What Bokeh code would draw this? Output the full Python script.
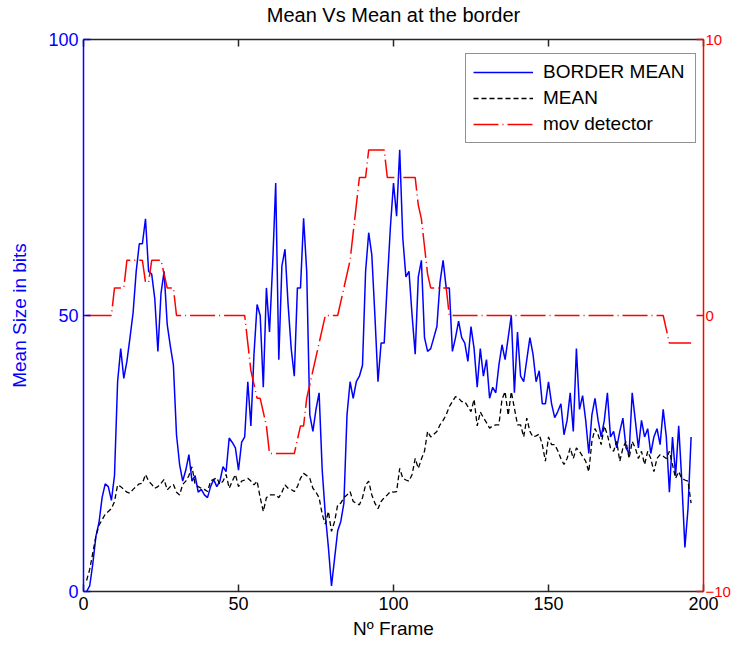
from bokeh.plotting import figure
from bokeh.models import Range1d, LinearAxis, FixedTicker, Legend, LegendItem
from bokeh.embed import file_html
from bokeh.resources import INLINE

# ---- data -------------------------------------------------------------
frames = list(range(1, 197))

border_mean = [
    0, 1, 5, 10, 12.5, 17, 19.5, 19, 16.5, 21,
    38, 44, 38.6, 41.7, 46, 50.5, 58, 63, 63, 67.5,
    58, 57.5, 53, 43.5, 54, 58, 48.4, 44.5, 41, 28.4,
    23, 20, 22, 24.8, 20, 21, 18, 18.5, 17.5, 17,
    19, 20.3, 19, 20, 22.6, 21.7, 27.8, 27, 26, 22,
    27, 28, 38, 30, 43, 52, 50, 37, 55, 47,
    59, 74, 42, 59, 62, 52, 44, 39, 55, 55,
    67.6, 58, 32, 29, 33, 36, 22, 14, 8, 1,
    6, 11, 12.7, 16, 32, 38, 35, 38, 39, 41,
    58, 65, 61, 50, 38, 45, 45, 56, 66, 74,
    68, 80, 64, 57, 58, 50, 43, 57, 60, 46,
    43.5, 44, 46, 48, 56, 60, 55, 55, 43.5, 46,
    49, 46, 45, 41.7, 48, 44, 37, 44, 39, 42,
    35, 37, 36, 41, 44.7, 42, 46, 50, 36, 47,
    39, 38, 42, 46, 43, 38, 40, 34, 34, 38,
    34, 31.5, 32.6, 34, 28.4, 31, 36, 29, 44, 33,
    35.5, 31, 25, 32, 35, 31, 28, 31, 36, 28,
    29, 26, 29, 31.4, 26, 25, 36, 31, 26, 31,
    28, 29.5, 25, 28, 29.5, 26.6, 33, 28, 18, 28,
    21, 30, 20, 8, 15, 28,
]

mean = [
    2, 4, 7, 10, 12, 13, 14, 14.5, 15, 16.3,
    19.3, 19, 18.5, 18, 17.8, 18.5, 19, 19.5, 19.6, 21.2,
    20, 19.4, 18.7, 19, 19.6, 20.3, 18.4, 19, 19.4, 18,
    17.5, 19.4, 20, 21, 22.6, 19.4, 19, 18.7, 18.5, 18.1,
    20, 20.3, 20.6, 19.4, 20, 21.2, 18.7, 20, 21.2, 19,
    20, 20.2, 20.5, 20, 19.3, 20, 17, 14.5, 17, 17.5,
    17.5, 17.5, 17, 18, 19.3, 18.7, 18.5, 18.1, 19, 20.5,
    21.4, 21, 20.5, 18.7, 18, 17, 14, 12.2, 14.5, 10.9,
    12.7, 15.7, 16, 17, 17.5, 18.1, 16.3, 16, 15.7, 17,
    19.3, 20, 17.5, 16, 15, 16.3, 17, 17.5, 18.1, 18,
    18.1, 22.3, 20.5, 20.2, 20, 21.2, 24.1, 22.3, 24, 25.4,
    29, 28, 28.5, 29, 30.2, 31, 32, 33.5, 34.4, 35.3,
    35, 34.4, 34.4, 33.5, 32.6, 34.8, 30, 32.5, 31.5, 30.6,
    29.6, 30, 30.2, 30.2, 34.8, 36.2, 31.9, 36.2, 33.2, 30.2,
    30.2, 28, 31.4, 29, 28, 28.2, 28.5, 26.6, 23.6, 28,
    26.6, 26.6, 25.5, 24.1, 23, 24.1, 26, 24.1, 26, 25.4,
    24.5, 23.6, 21.7, 27.2, 29.5, 28.4, 26.6, 30, 28.4, 26,
    25.4, 27.2, 23.6, 26, 27.2, 24.1, 27.2, 26, 24.1, 25.4,
    23, 25.4, 24.1, 21.7, 24.1, 24.8, 24.5, 24.1, 25.4, 23,
    20.5, 21.7, 20.5, 20.2, 20, 16,
]

mov_detector = (
    [0] * 9 + [1] * 4 + [2] * 6 + [1.2] * 2 + [2] * 4 + [1.5] + [1] * 3 + [0] * 23
    + [-1, -2, -2.5, -3, -3, -3.5, -4] + [-5] * 9
    + [-4.5, -4, -4, -3, -2.5, -2, -1.5, -1, -0.5] + [0] * 5
    + [0.5, 1, 1.5, 2, 3, 4] + [5] * 3 + [6] * 6 + [5] * 10
    + [4, 3.5, 2.5, 1.5] + [1] * 6 + [0] * 70 + [-0.5] + [-1] * 8
)

x_ticks = [0, 50, 100, 150, 200]
left_ticks = [0, 50, 100]
right_ticks = [-10, 0, 10]
title_text = "Mean Vs Mean at the border"

FONT = "Liberation Sans"
BLUE = "#0000ff"
RED = "#ff0000"
AXIS_BLACK = "#262626"

# ---- figure -------------------------------------------------------------
p = figure(
    frame_width=620, frame_height=552,
    x_range=Range1d(0, 200), y_range=Range1d(0, 100),
    output_backend="svg", toolbar_location=None,
    min_border_left=83, min_border_top=38, min_border_right=2, min_border_bottom=5,
)
p.extra_y_ranges = {"mov": Range1d(-10, 10)}
p.outline_line_color = None
p.background_fill_color = "white"
p.border_fill_color = "white"
p.xgrid.visible = False
p.ygrid.visible = False


def style_axis(ax, color, ticks, line_color=None, size="18px"):
    ax.ticker = FixedTicker(ticks=ticks)
    ax.axis_line_color = line_color or color
    ax.axis_line_width = 1.5
    ax.major_tick_line_color = line_color or color
    ax.major_tick_line_width = 1.5
    ax.major_tick_in = 7
    ax.major_tick_out = 0
    ax.minor_tick_line_color = None
    ax.major_label_text_color = color
    ax.major_label_text_font = FONT
    ax.major_label_text_font_size = size
    ax.axis_label_text_font = FONT
    ax.axis_label_text_font_size = "19px"
    ax.axis_label_text_font_style = "normal"
    ax.axis_label_text_color = color


xa = p.xaxis[0]
style_axis(xa, "#000000", x_ticks, AXIS_BLACK)
xa.axis_label = "Nº Frame"
xa.major_label_standoff = 5
xa.axis_label_standoff = 5

ya = p.yaxis[0]
style_axis(ya, BLUE, left_ticks)
ya.axis_label = "Mean Size in bits"
ya.major_label_standoff = 5
ya.axis_label_standoff = 15

# top box edge; its axis label carries the chart title
top = LinearAxis()
style_axis(top, "#000000", x_ticks, AXIS_BLACK)
top.major_label_overrides = {t: "" for t in x_ticks}
top.major_label_text_font_size = "1px"
top.major_label_standoff = 0
top.axis_label = title_text
top.axis_label_text_font_size = "20px"
top.axis_label_standoff = 14
p.add_layout(top, "above")

ra = LinearAxis(y_range_name="mov")
style_axis(ra, RED, right_ticks, size="15px")
ra.major_label_standoff = 2
p.add_layout(ra, "right")

# ---- lines ---------------------------------------------------------------
r_blue = p.line(frames, border_mean, line_color=BLUE, line_width=1.5)
r_black = p.line(frames, mean, line_color="#000000", line_width=1.3, line_dash="5 3")
r_red = p.line(frames, mov_detector, y_range_name="mov", line_color=RED,
               line_width=1.5, line_dash="25 4 1 4")

legend = Legend(items=[
    LegendItem(label="BORDER MEAN", renderers=[r_blue]),
    LegendItem(label="MEAN", renderers=[r_black]),
    LegendItem(label="mov detector", renderers=[r_red]),
])
legend.location = (382, 448)
legend.label_text_font = FONT
legend.label_text_font_size = "19px"
legend.label_text_color = "#000000"
legend.glyph_width = 60
legend.glyph_height = 20
legend.label_height = 20
legend.label_width = 145
legend.label_standoff = 10
legend.spacing = 4
legend.padding = 7
legend.margin = 0
legend.border_line_color = AXIS_BLACK
legend.border_line_width = 1.5
legend.background_fill_color = "white"
legend.background_fill_alpha = 1.0
p.add_layout(legend, "center")

open("out.html", "w").write(file_html(p, INLINE))
